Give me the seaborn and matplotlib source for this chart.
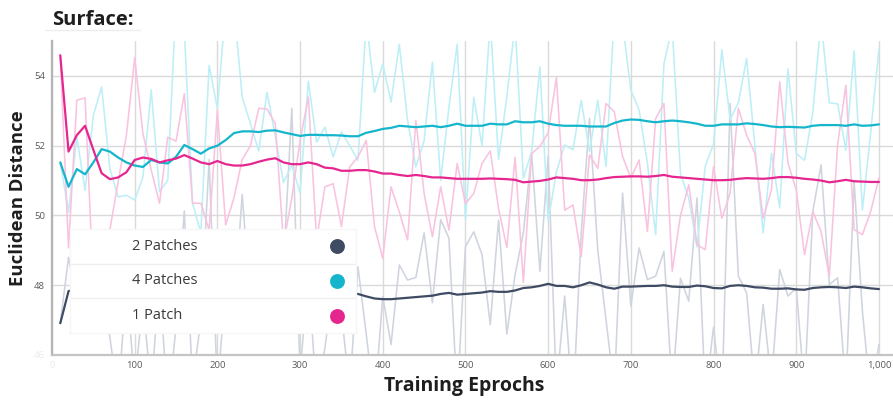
import matplotlib
matplotlib.use("Agg")
import matplotlib.pyplot as plt
from matplotlib.lines import Line2D
import pandas as pd
import seaborn as sns

# Training epochs (one sample every 10 epochs)
epochs = list(range(10, 1001, 10))

# 1 Patch: raw per-epoch distance and its smoothed trend
patch1_raw = [
    54.59, 49.07, 53.30, 53.37, 48.00, 47.20, 49.59, 50.97, 52.30, 54.52,
    52.34, 51.30, 50.35, 52.24, 52.13, 53.49, 50.35, 50.35, 49.58, 53.02,
    49.73, 50.50, 51.60, 52.00, 53.07, 53.05, 52.63, 49.20, 50.50, 52.15,
    53.39, 49.30, 50.82, 50.91, 49.68, 51.39, 51.68, 52.15, 49.68, 48.77,
    50.82, 50.10, 49.30, 52.72, 50.63, 49.39, 50.82, 49.58, 51.49, 50.34,
    50.63, 51.49, 51.85, 50.20, 49.08, 51.67, 48.08, 51.77, 51.98, 52.37,
    53.96, 50.15, 50.30, 48.82, 51.73, 51.35, 53.21, 52.97, 51.69, 51.07,
    51.59, 49.54, 52.78, 53.21, 48.40, 50.00, 50.88, 49.16, 49.02, 51.40,
    49.92, 50.64, 53.07, 52.30, 51.78, 49.92, 50.73, 53.83, 51.50, 50.73,
    48.88, 50.11, 49.54, 48.26, 52.02, 53.73, 49.59, 49.45, 50.11, 51.07,
]
patch1_smooth = [
    54.59, 51.83, 52.30, 52.57, 51.88, 51.21, 51.04, 51.09, 51.24, 51.59,
    51.66, 51.62, 51.52, 51.58, 51.63, 51.73, 51.63, 51.52, 51.47, 51.56,
    51.47, 51.43, 51.43, 51.47, 51.54, 51.60, 51.64, 51.52, 51.47, 51.47,
    51.52, 51.47, 51.37, 51.35, 51.28, 51.28, 51.30, 51.30, 51.26, 51.20,
    51.20, 51.16, 51.13, 51.16, 51.13, 51.09, 51.09, 51.07, 51.05, 51.05,
    51.05, 51.05, 51.06, 51.05, 51.04, 51.02, 50.95, 50.97, 50.99, 51.03,
    51.09, 51.07, 51.05, 51.01, 51.01, 51.03, 51.07, 51.10, 51.11, 51.12,
    51.12, 51.11, 51.13, 51.16, 51.11, 51.09, 51.07, 51.05, 51.03, 51.01,
    51.01, 51.02, 51.05, 51.07, 51.06, 51.05, 51.07, 51.10, 51.10, 51.08,
    51.05, 51.03, 51.00, 50.95, 50.98, 51.02, 50.98, 50.97, 50.96, 50.96,
]

# 4 Patches
patch4_raw = [
    51.52, 50.10, 52.25, 50.72, 52.87, 53.68, 51.34, 50.53, 50.58, 50.44,
    51.10, 53.60, 50.68, 51.01, 56.20, 55.30, 50.34, 49.50, 54.30, 53.06,
    56.00, 56.00, 53.39, 52.63, 51.85, 53.53, 52.28, 50.94, 51.45, 50.64,
    53.85, 52.10, 52.53, 51.68, 52.39, 52.00, 51.58, 55.60, 53.53, 54.34,
    53.25, 54.91, 52.72, 51.39, 52.15, 54.39, 51.00, 53.10, 54.91, 49.87,
    53.39, 52.00, 55.60, 51.60, 53.40, 55.50, 51.07, 51.83, 54.26, 49.83,
    51.26, 52.02, 51.88, 53.30, 51.83, 53.30, 51.40, 55.80, 55.50, 53.59,
    53.02, 51.50, 49.45, 54.35, 55.40, 51.20, 50.50, 49.10, 51.42, 52.04,
    54.75, 52.75, 53.23, 54.50, 52.00, 49.50, 51.78, 50.22, 54.20, 51.78,
    51.58, 52.94, 55.60, 53.23, 53.20, 51.87, 54.72, 50.15, 52.37, 54.77,
]
patch4_smooth = [
    51.52, 50.82, 51.33, 51.18, 51.52, 51.90, 51.83, 51.66, 51.52, 51.43,
    51.39, 51.59, 51.52, 51.49, 51.68, 52.02, 51.90, 51.77, 51.92, 52.00,
    52.16, 52.36, 52.41, 52.41, 52.39, 52.43, 52.44, 52.38, 52.33, 52.28,
    52.31, 52.31, 52.30, 52.30, 52.29, 52.27, 52.27, 52.37, 52.42, 52.48,
    52.51, 52.57, 52.55, 52.53, 52.55, 52.57, 52.53, 52.57, 52.63, 52.57,
    52.57, 52.57, 52.63, 52.61, 52.61, 52.70, 52.67, 52.67, 52.70, 52.63,
    52.59, 52.57, 52.57, 52.57, 52.55, 52.55, 52.55, 52.65, 52.72, 52.75,
    52.74, 52.70, 52.67, 52.70, 52.72, 52.70, 52.67, 52.63, 52.57, 52.57,
    52.61, 52.61, 52.61, 52.64, 52.62, 52.59, 52.55, 52.53, 52.54, 52.53,
    52.52, 52.57, 52.59, 52.59, 52.59, 52.57, 52.61, 52.57, 52.58, 52.61,
]

# 2 Patches
patch2_raw = [
    46.91, 48.80, 47.50, 48.00, 47.00, 48.20, 46.50, 44.80, 48.00, 45.20,
    47.50, 45.00, 48.20, 44.50, 46.80, 50.13, 45.20, 47.00, 51.60, 45.00,
    48.00, 47.20, 50.60, 47.50, 48.50, 47.00, 48.20, 48.60, 53.07, 45.50,
    48.30, 44.80, 46.20, 48.00, 47.20, 45.00, 48.53, 46.60, 44.60, 47.68,
    46.30, 48.58, 48.15, 48.22, 49.50, 47.50, 49.88, 49.35, 44.80, 49.11,
    49.53, 48.88, 46.87, 49.87, 46.60, 48.30, 49.50, 51.78, 48.40, 51.69,
    45.00, 47.69, 44.50, 49.50, 52.78, 49.00, 47.00, 45.00, 50.64, 47.40,
    49.07, 48.16, 48.26, 48.97, 45.00, 48.20, 47.54, 50.50, 44.80, 46.80,
    44.60, 53.21, 48.26, 47.78, 45.00, 47.45, 45.20, 48.45, 47.69, 47.92,
    45.00, 50.11, 51.45, 48.02, 48.21, 45.00, 50.97, 47.26, 44.80, 46.30,
]
patch2_smooth = [
    46.91, 47.83, 47.90, 47.95, 47.90, 47.85, 47.80, 47.85, 47.90, 47.95,
    47.90, 47.85, 47.80, 47.85, 47.90, 47.85, 47.80, 47.80, 47.85, 47.90,
    47.85, 47.80, 47.80, 47.85, 47.80, 47.85, 47.80, 47.75, 47.80, 47.85,
    47.80, 47.80, 47.78, 47.76, 47.77, 47.76, 47.75, 47.68, 47.62, 47.60,
    47.60, 47.62, 47.64, 47.66, 47.68, 47.70, 47.75, 47.78, 47.73, 47.75,
    47.77, 47.79, 47.83, 47.81, 47.81, 47.85, 47.92, 47.94, 47.98, 48.04,
    47.98, 47.98, 47.94, 48.00, 48.08, 48.02, 47.94, 47.90, 47.96, 47.96,
    47.97, 47.98, 47.98, 48.00, 47.96, 47.95, 47.95, 47.99, 47.97, 47.92,
    47.91, 47.98, 48.00, 47.98, 47.94, 47.93, 47.90, 47.90, 47.91, 47.88,
    47.87, 47.92, 47.94, 47.95, 47.94, 47.92, 47.96, 47.94, 47.91, 47.89,
]

series_names = ["2 Patches", "4 Patches", "1 Patch"]
x_ticks = [0, 100, 200, 300, 400, 500, 600, 700, 800, 900, 1000]
x_tick_labels = ["0", "100", "200", "300", "400", "500", "600", "700", "800", "900", "1,000"]
y_ticks = [46, 48, 50, 52, 54]
y_tick_labels = ["46", "48", "50", "52", "54"]

dark_colors = {"2 Patches": "#3f4b63", "4 Patches": "#15b6cc", "1 Patch": "#e6268f"}
light_colors = {"2 Patches": "#cfd4de", "4 Patches": "#bdeff6", "1 Patch": "#f9c3e0"}

frames = []
for name, raw, smooth in [
    ("2 Patches", patch2_raw, patch2_smooth),
    ("4 Patches", patch4_raw, patch4_smooth),
    ("1 Patch", patch1_raw, patch1_smooth),
]:
    frames.append(pd.DataFrame({"epoch": epochs, "distance": raw, "series": name, "kind": "raw"}))
    frames.append(pd.DataFrame({"epoch": epochs, "distance": smooth, "series": name, "kind": "smooth"}))
df = pd.concat(frames, ignore_index=True)

sns.set_theme(style="white")
plt.rcParams["font.family"] = ["Open Sans", "DejaVu Sans"]

W, H = 893, 401
fig = plt.figure(figsize=(W / 100, H / 100), dpi=100)
ax = fig.add_axes([52 / W, 46 / H, (W - 52) / W, (355 - 41) / H])

sns.lineplot(data=df[df["kind"] == "raw"], x="epoch", y="distance", hue="series",
             hue_order=series_names, palette=light_colors, linewidth=1.15,
             estimator=None, legend=False, ax=ax)
sns.lineplot(data=df[df["kind"] == "smooth"], x="epoch", y="distance", hue="series",
             hue_order=series_names, palette=dark_colors, linewidth=1.6,
             estimator=None, legend=False, ax=ax)

ax.set_xlim(0, 1017)
ax.set_ylim(46, 55)
ax.set_xticks(x_ticks)
ax.set_xticklabels(x_tick_labels)
ax.set_yticks(y_ticks)
ax.set_yticklabels(y_tick_labels)
ax.tick_params(axis="both", length=0, labelsize=6.8, labelcolor="#5a5a5a")
ax.tick_params(axis="x", pad=4)
ax.tick_params(axis="y", pad=5)
ax.get_xticklabels()[0].set_alpha(0.12)
ax.get_yticklabels()[0].set_alpha(0.12)
ax.set_xlabel("")
ax.set_ylabel("")
ax.grid(True, color="#dadada", linewidth=1.0)
ax.set_axisbelow(True)
for side in ("top", "right"):
    ax.spines[side].set_visible(False)
ax.spines["left"].set_color("#b4b4b4")
ax.spines["left"].set_linewidth(1.6)
ax.spines["bottom"].set_color("#c4c4c4")
ax.spines["bottom"].set_linewidth(1.6)

# Title, its underline and axis titles
fig.text(52 / W, 1 - 20 / H, "Surface:", fontsize=14.5, fontweight="bold",
         color="#1e1e1e", ha="left", va="center")
fig.add_artist(Line2D([45 / W, 140 / W], [1 - 30 / H, 1 - 30 / H], color="#eeeeee", lw=1))
fig.text(18 / W, 1 - 198 / H, "Euclidean Distance", rotation=90, fontsize=13.3,
         fontweight="bold", color="#1e1e1e", ha="center", va="center")
fig.text(464 / W, 1 - 386 / H, "Training Eprochs", fontsize=14, fontweight="bold",
         color="#1e1e1e", ha="center", va="center")

# Legend panel drawn over the plot
lg = fig.add_axes([70 / W, (H - 333) / H, (356 - 70) / W, (333 - 229) / H])
lg.set_xlim(0, 1)
lg.set_ylim(0, 3)
lg.set_facecolor("white")
lg.set_xticks([])
lg.set_yticks([])
for s in lg.spines.values():
    s.set_color("#f6f6f6")
    s.set_linewidth(1)
for y in (1, 2):
    lg.axhline(y, color="#efefef", lw=1)
for i, name in enumerate(series_names):
    yc = 2.5 - i
    lg.text((132 - 70) / 286, yc, name, fontsize=10.5, color="#3a3a3a",
            ha="left", va="center")
    lg.scatter([(337 - 70) / 286], [yc], s=115, color=dark_colors[name], linewidths=0)

fig.savefig("out.png", dpi=100)
